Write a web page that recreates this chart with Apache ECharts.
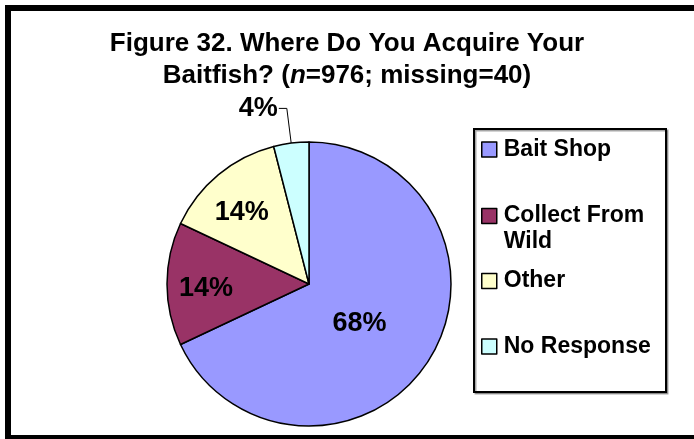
<!DOCTYPE html>
<html>
<head>
<meta charset="utf-8">
<script src="https://cdn.jsdelivr.net/npm/echarts@6/dist/echarts.min.js"></script>
<style>
  html, body { margin: 0; padding: 0; background: #fff; }
  #chart { width: 694px; height: 439px; }
</style>
</head>
<body>
<div id="chart"></div>
<script>
// data
var categories = ['Bait Shop', 'Collect From Wild', 'Other', 'No Response'];
var percents = [68, 14, 14, 4];
var sliceColors = ['#9999FF', '#993366', '#FFFFCC', '#CCFFFF'];

var FONT = 'Liberation Sans, Arial, sans-serif';

var pieData = categories.map(function (name, i) {
  var item = { name: name, value: percents[i], itemStyle: { color: sliceColors[i] } };
  if (name === 'No Response') {
    item.label = { position: 'outside', distanceToLabelLine: 1 };
    item.labelLine = { show: true, length: 35, length2: 8, lineStyle: { color: '#000', width: 1 } };
  }
  return item;
});

// one legend per entry so each can sit where the original puts it
function legendFor(name, top, fmt) {
  var l = {
    data: [name],
    orient: 'vertical',
    left: 481,
    top: top,
    padding: 0,
    icon: 'rect',
    itemWidth: 15,
    itemHeight: 15,
    itemGap: 0,
    selectedMode: false,
    itemStyle: { borderColor: '#000', borderWidth: 1.5 },
    textStyle: { fontFamily: FONT, fontSize: 23, fontWeight: 'bold', color: '#000', lineHeight: 26, padding: [0, 0, 0, 2] }
  };
  if (fmt) l.formatter = fmt;
  return l;
}

// nudges for the inside labels (Excel puts them further out than r/2)
var labelNudge = [[-12, 0], [-29, 5], [-20, -14], [0, 0]];

var chart = echarts.init(document.getElementById('chart'));
chart.setOption({
  backgroundColor: '#fff',
  animation: false,
  title: {
    text: 'Figure 32. Where Do You Acquire Your\nBaitfish? ({i|n}=976; missing=40)',
    left: 'center',
    top: 28,
    padding: 0,
    textStyle: {
      fontFamily: FONT, fontSize: 26, fontWeight: 'bold', color: '#000', lineHeight: 32,
      rich: {
        i: { fontFamily: FONT, fontSize: 26, fontWeight: 'bold', fontStyle: 'italic', color: '#000', lineHeight: 32 }
      }
    }
  },
  legend: [
    legendFor('Bait Shop', 136.5),
    legendFor('Collect From Wild', 177, '\nCollect From\nWild'),
    legendFor('Other', 268),
    legendFor('No Response', 333.5)
  ],
  graphic: [
    {
      type: 'rect', z: 0,
      shape: { x: 8, y: 8, width: 700, height: 430 },
      style: { fill: 'none', stroke: '#000', lineWidth: 6 }
    },
    {
      type: 'rect', z: 0,
      shape: { x: 474, y: 129, width: 192, height: 263 },
      style: { fill: '#fff', stroke: '#000', lineWidth: 2, shadowColor: 'rgba(0,0,0,0.35)', shadowOffsetX: 1.5, shadowOffsetY: 1.5, shadowBlur: 0 }
    }
  ],
  series: [{
    type: 'pie',
    center: [309, 284],
    radius: 142,
    startAngle: 90,
    clockwise: true,
    avoidLabelOverlap: false,
    data: pieData,
    itemStyle: { borderColor: '#000', borderWidth: 1.5 },
    label: {
      show: true,
      position: 'inside',
      formatter: '{c}%',
      fontFamily: FONT,
      fontSize: 27,
      fontWeight: 'bold',
      color: '#000'
    },
    labelLine: { show: false },
    labelLayout: function (params) {
      var n = labelNudge[params.dataIndex];
      return { dx: n[0], dy: n[1] };
    },
    emphasis: { disabled: true }
  }]
});
</script>
</body>
</html>
